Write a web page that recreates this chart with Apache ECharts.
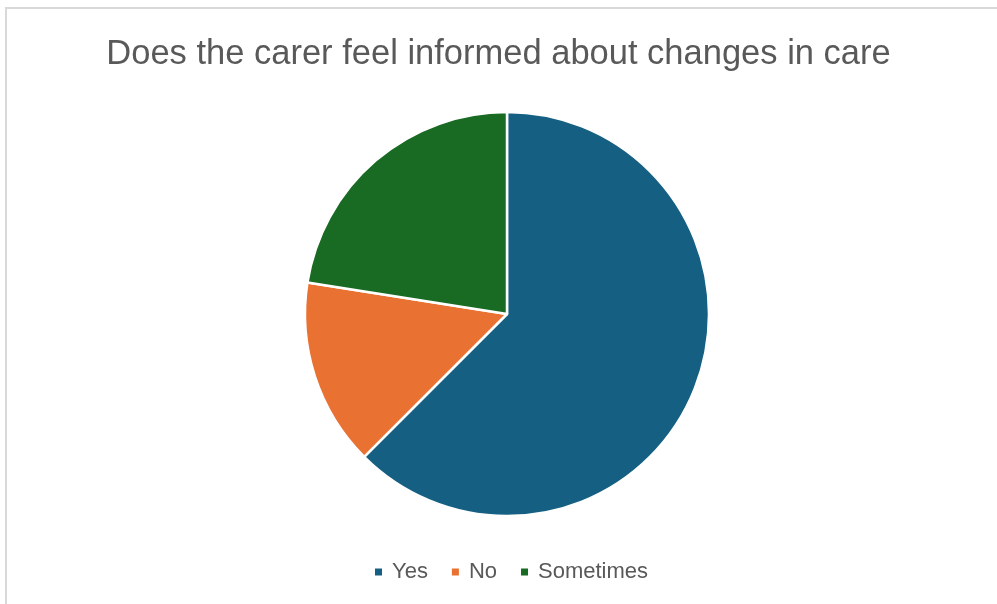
<!DOCTYPE html>
<html>
<head>
<meta charset="utf-8">
<script src="https://cdn.jsdelivr.net/npm/echarts@6/dist/echarts.min.js"></script>
<style>
  html, body { margin: 0; padding: 0; background: #fff; }
  #frame { position: absolute; left: 5px; top: 7px; width: 992px; height: 597px;
           border-top: 2px solid #d9d9d9; border-left: 2px solid #d9d9d9; box-sizing: border-box; }
  #chart { position: absolute; left: 0; top: 0; width: 997px; height: 604px; }
</style>
</head>
<body>
<div id="frame"></div>
<div id="chart"></div>
<script>
// Responses to the survey question
const categories = ['Yes', 'No', 'Sometimes'];
const counts = [25, 6, 9];
const colors = ['#156082', '#E97132', '#196B24'];

const chart = echarts.init(document.getElementById('chart'), null, { renderer: 'canvas' });
const fontFam = '"Liberation Sans", Arial, sans-serif';

chart.setOption({
  animation: false,
  title: {
    text: 'Does the carer feel informed about changes in care',
    left: 'center',
    top: 32,
    textStyle: { fontFamily: fontFam, fontSize: 34.5, fontWeight: 'normal', color: '#595959' }
  },
  legend: {
    data: categories,
    top: 561,
    left: 373,
    padding: 0,
    itemWidth: 9,
    itemHeight: 9,
    itemGap: 22,
    icon: 'rect',
    textStyle: { fontFamily: fontFam, fontSize: 22, color: '#595959', padding: [0, 0, 0, 4] }
  },
  series: [{
    type: 'pie',
    center: [507, 314],
    radius: 202,
    startAngle: 90,
    clockwise: true,
    label: { show: false },
    labelLine: { show: false },
    emphasis: { disabled: true },
    itemStyle: { borderColor: '#ffffff', borderWidth: 2.5 },
    data: categories.map((c, i) => ({ name: c, value: counts[i], itemStyle: { color: colors[i] } }))
  }]
});
</script>
</body>
</html>
